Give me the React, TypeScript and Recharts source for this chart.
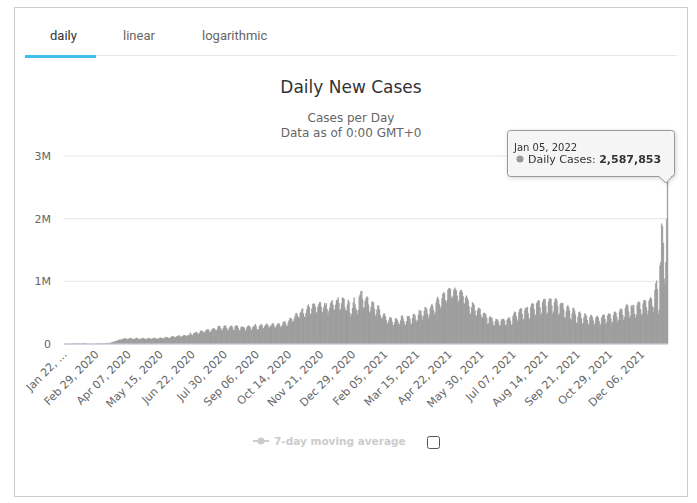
import React from 'react';
import { BarChart, Bar, XAxis, YAxis, CartesianGrid, Tooltip } from 'recharts';

// Daily new cases, in thousands, one array per month (Jan 22, 2020 .. Jan 05, 2022)
const jan2020 = [0.6, 0.1, 0.3, 0.5, 0.7, 0.8, 1.8, 1.5, 1.7, 2.0];
const feb2020 = [2.1, 2.6, 2.8, 3.2, 3.9, 3.7, 3.2, 3.4, 2.7, 3.0, 2.6, 2.0, 2.0, 15.1, 6.5, 2.7, 2.1, 2.0, 1.9, 0.6, 0.9, 1.0, 1.0, 0.8, 0.9, 1.0, 1.3, 1.5, 1.9];
const mar2020 = [2.0, 2.4, 2.5, 2.4, 2.9, 3.9, 3.9, 4.0, 3.9, 4.6, 7.1, 7.4, 10.8, 10.9, 13.8, 14.5, 17.1, 26.4, 29.6, 32.4, 34.5, 41, 45, 47, 57, 63, 67, 66, 64, 73, 77];
const apr2020 = [82, 86, 89, 82, 74, 78, 83, 89, 88, 93, 84, 76, 72, 80, 85, 99, 93, 83, 77, 76, 78, 84, 90, 95, 85, 82, 74, 80, 80, 91];
const may2020 = [93, 88, 80, 77, 82, 88, 91, 97, 90, 80, 77, 85, 88, 97, 99, 96, 82, 89, 92, 101, 106, 109, 103, 95, 92, 94, 104, 117, 122, 122, 104];
const jun2020 = [101, 113, 121, 127, 130, 134, 117, 104, 120, 124, 135, 139, 136, 127, 122, 135, 142, 141, 181, 155, 132, 141, 169, 172, 179, 190, 182, 163, 155, 176];
const jul2020 = [209, 207, 211, 192, 190, 170, 213, 214, 230, 233, 223, 186, 185, 221, 232, 249, 255, 239, 215, 211, 241, 287, 287, 283, 254, 210, 227, 252, 288, 291, 290];
const aug2020 = [257, 218, 212, 256, 272, 287, 291, 264, 219, 220, 277, 293, 293, 286, 247, 214, 213, 265, 278, 271, 268, 258, 213, 215, 260, 287, 290, 289, 263, 225, 219];
const sep2020 = [268, 281, 292, 318, 283, 232, 224, 234, 290, 290, 320, 296, 253, 248, 280, 298, 321, 321, 294, 255, 269, 292, 288, 326, 327, 300, 264, 255, 289, 313];
const oct2020 = [325, 330, 297, 265, 274, 303, 344, 358, 362, 327, 280, 290, 353, 379, 412, 416, 396, 350, 359, 399, 442, 483, 495, 455, 419, 420, 489, 510, 549, 568, 484];
const nov2020 = [431, 432, 489, 551, 609, 628, 583, 472, 480, 562, 640, 643, 640, 597, 486, 508, 586, 635, 661, 667, 592, 502, 513, 580, 652, 615, 650, 552, 466, 520];
const dec2020 = [573, 650, 676, 696, 623, 540, 545, 621, 694, 705, 740, 653, 538, 549, 645, 739, 735, 717, 583, 537, 532, 626, 702, 667, 496, 429, 473, 574, 663, 739, 632];
const jan2021 = [564, 538, 470, 540, 754, 790, 840, 845, 713, 570, 589, 685, 723, 755, 747, 625, 504, 519, 587, 669, 676, 658, 560, 440, 467, 546, 613, 608, 547, 460, 410];
const feb2021 = [399, 442, 484, 482, 440, 384, 330, 322, 369, 418, 428, 410, 352, 303, 290, 343, 409, 402, 384, 349, 308, 317, 372, 445, 455, 403, 360, 312];
const mar2021 = [296, 358, 443, 438, 445, 401, 333, 305, 410, 474, 479, 456, 388, 349, 376, 460, 538, 515, 532, 456, 381, 444, 528, 587, 580, 552, 479, 406, 458, 563, 600];
const apr2021 = [640, 608, 542, 470, 505, 657, 721, 751, 706, 636, 571, 593, 725, 798, 825, 805, 695, 649, 694, 860, 887, 891, 873, 743, 717, 768, 856, 899, 875, 851];
const may2021 = [767, 650, 693, 827, 857, 856, 821, 760, 652, 638, 741, 770, 733, 690, 598, 487, 469, 587, 661, 646, 624, 530, 454, 447, 538, 577, 569, 558, 468, 417, 421];
const jun2021 = [485, 496, 487, 465, 411, 318, 327, 422, 438, 423, 415, 361, 296, 294, 358, 398, 387, 388, 347, 285, 301, 370, 397, 394, 399, 371, 296, 305, 384, 404];
const jul2021 = [420, 419, 369, 294, 316, 442, 480, 513, 504, 443, 346, 385, 506, 549, 566, 563, 475, 366, 400, 537, 575, 571, 591, 489, 387, 407, 590, 640, 651, 639, 558];
const aug2021 = [443, 470, 649, 676, 696, 690, 581, 450, 490, 668, 705, 719, 713, 605, 467, 497, 673, 719, 725, 718, 612, 472, 514, 665, 718, 728, 690, 600, 457, 487, 640];
const sep2021 = [654, 649, 651, 559, 421, 414, 517, 598, 616, 580, 531, 404, 383, 482, 567, 573, 529, 465, 333, 341, 434, 503, 516, 484, 408, 320, 333, 420, 484, 477];
const oct2021 = [445, 378, 300, 321, 422, 458, 458, 425, 371, 296, 323, 408, 441, 446, 416, 363, 290, 317, 418, 454, 467, 468, 394, 313, 345, 450, 483, 480, 477, 404, 329];
const nov2021 = [350, 460, 509, 513, 494, 431, 343, 384, 519, 556, 564, 547, 464, 380, 428, 572, 619, 636, 606, 516, 414, 448, 602, 621, 575, 620, 479, 413, 461, 619];
const dec2021 = [664, 676, 661, 554, 454, 482, 646, 697, 702, 679, 582, 465, 525, 681, 720, 745, 720, 604, 506, 580, 857, 964, 1010, 870, 478, 541, 1250, 1300, 1920, 1880, 1610];
const jan2022 = [1040, 950, 1300, 1990, 2587.853];

const monthly = [
  jan2020, feb2020, mar2020, apr2020, may2020, jun2020, jul2020, aug2020, sep2020, oct2020, nov2020, dec2020,
  jan2021, feb2021, mar2021, apr2021, may2021, jun2021, jul2021, aug2021, sep2021, oct2021, nov2021, dec2021,
  jan2022,
];

const monthNames = ['Jan', 'Feb', 'Mar', 'Apr', 'May', 'Jun', 'Jul', 'Aug', 'Sep', 'Oct', 'Nov', 'Dec'];

const xTickLabels = [
  'Jan 22, 2020', 'Feb 29, 2020', 'Apr 07, 2020', 'May 15, 2020', 'Jun 22, 2020', 'Jul 30, 2020',
  'Sep 06, 2020', 'Oct 14, 2020', 'Nov 21, 2020', 'Dec 29, 2020', 'Feb 05, 2021', 'Mar 15, 2021',
  'Apr 22, 2021', 'May 30, 2021', 'Jul 07, 2021', 'Aug 14, 2021', 'Sep 21, 2021', 'Oct 29, 2021',
  'Dec 06, 2021',
];

const yTicks = [0, 1000000, 2000000, 3000000];
const yTickLabels = ['0', '1M', '2M', '3M'];

const tabs = ['daily', 'linear', 'logarithmic'];

const FONT = '"DejaVu Sans", Verdana, sans-serif';

const startMs = Date.UTC(2020, 0, 22);
const data = monthly.flat().map((v, i) => {
  const d = new Date(startMs + i * 86400000);
  const day = String(d.getUTCDate()).padStart(2, '0');
  return {
    date: `${monthNames[d.getUTCMonth()]} ${day}, ${d.getUTCFullYear()}`,
    cases: Math.round(v * 1000),
  };
});

const XTick = ({ x, y, payload }: any) => {
  const label = payload.value === xTickLabels[0] ? 'Jan 22, ...' : payload.value;
  const tx = x + 3;
  const ty = y + 3;
  return (
    <text
      x={tx}
      y={ty}
      transform={`rotate(-45 ${tx} ${ty})`}
      textAnchor="end"
      fontSize={11}
      fill="#666"
      fontFamily={FONT}
    >
      {label}
    </text>
  );
};

const TipBox = ({ payload, label }: any) => {
  if (!payload || !payload.length) return null;
  const value = Number(payload[0].value).toLocaleString('en-US');
  return (
    <svg width={180} height={62} style={{ overflow: 'visible', filter: 'drop-shadow(1px 1px 2px rgba(0,0,0,0.18))' }}>
      <path
        d="M 3.5 0.5 L 164.5 0.5 Q 167.5 0.5 167.5 3.5 L 167.5 43.5 Q 167.5 46.5 164.5 46.5 L 165 46.5 L 159 53 L 152 46.5 L 3.5 46.5 Q 0.5 46.5 0.5 43.5 L 0.5 3.5 Q 0.5 0.5 3.5 0.5 Z"
        fill="rgba(247,247,247,0.92)"
        stroke="#999"
        strokeWidth={1}
      />
      <text x={7} y={21} fontSize={10} fill="#333" fontFamily={FONT}>{label}</text>
      <circle cx={13} cy={29} r={3.5} fill="#999" />
      <text x={21} y={33} fontSize={11} fill="#333" fontFamily={FONT}>
        Daily Cases: <tspan fontWeight="bold">{value}</tspan>
      </text>
    </svg>
  );
};

export default function App() {
  return (
    <div style={{ position: 'absolute', left: 0, top: 0, width: 697, height: 503, background: '#fff', fontFamily: FONT }}>
      <div style={{ position: 'absolute', left: 14, top: 7, width: 672, height: 488, border: '1px solid #ccc' }} />

      {/* tabs */}
      {tabs.map((t, i) => (
        <div
          key={t}
          style={{
            position: 'absolute',
            left: [50, 123, 202][i],
            top: 28,
            fontFamily: 'Roboto, sans-serif',
            fontSize: 13,
            color: i === 0 ? '#333' : '#666',
          }}
        >
          {t}
        </div>
      ))}
      <div style={{ position: 'absolute', left: 25, top: 55, width: 652, height: 1, background: '#e8e8e8' }} />
      <div style={{ position: 'absolute', left: 25, top: 55, width: 71, height: 3, background: '#3fc0ec' }} />

      {/* titles */}
      <div style={{ position: 'absolute', left: 0, width: 702, top: 77, textAlign: 'center', fontSize: 17, color: '#333' }}>
        Daily New Cases
      </div>
      <div style={{ position: 'absolute', left: 0, width: 702, top: 111, textAlign: 'center', fontSize: 12, color: '#666', lineHeight: '15px' }}>
        Cases per Day
        <br />
        Data as of 0:00 GMT+0
      </div>

      <div style={{ position: 'absolute', left: 0, top: 0 }}>
        <BarChart
          width={697}
          height={503}
          data={data}
          barCategoryGap={0}
          margin={{ top: 156, right: 29, bottom: 99, left: 4 }}
        >
          <CartesianGrid vertical={false} stroke="#e6e6e6" />
          <XAxis
            dataKey="date"
            ticks={xTickLabels}
            interval={0}
            tickLine={false}
            axisLine={{ stroke: '#ccd6eb' }}
            height={60}
            tick={<XTick />}
          />
          <YAxis
            width={60}
            domain={[0, 3000000]}
            ticks={yTicks}
            tickFormatter={(v: number) => yTickLabels[yTicks.indexOf(v)]}
            tickLine={false}
            axisLine={false}
            tickMargin={7}
            tick={{ fontSize: 11, fill: '#666', fontFamily: FONT }}
          />
          <Tooltip
            active
            defaultIndex={data.length - 1}
            position={{ x: 507, y: 130 }}
            cursor={false}
            isAnimationActive={false}
            content={<TipBox />}
          />
          <Bar dataKey="cases" fill="#999" stroke="#999" strokeWidth={0.4} isAnimationActive={false} />
        </BarChart>
      </div>

      {/* legend */}
      <svg style={{ position: 'absolute', left: 250, top: 432 }} width={200} height={20}>
        <line x1={3} y1={9} x2={19} y2={9} stroke="#ccc" strokeWidth={2} />
        <circle cx={11} cy={9} r={3.5} fill="#ccc" />
        <text x={24} y={13} fontSize={10.5} fontWeight="bold" fill="#ccc" fontFamily={FONT}>7-day moving average</text>
        <rect x={177.5} y={4.5} width={12} height={12} rx={2} fill="#fff" stroke="#555" />
      </svg>
    </div>
  );
}
